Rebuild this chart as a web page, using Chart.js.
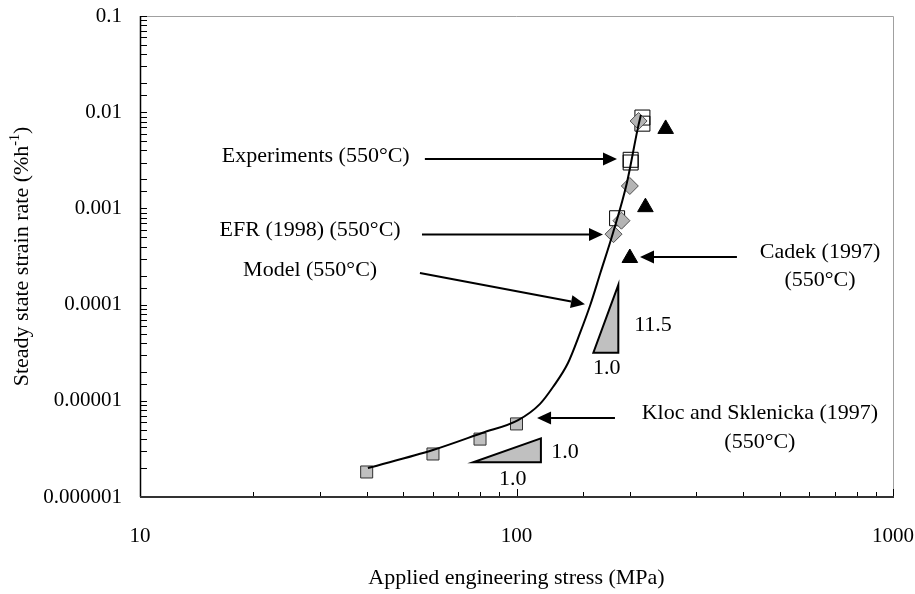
<!DOCTYPE html>
<html>
<head>
<meta charset="utf-8">
<script src="https://cdn.jsdelivr.net/npm/chart.js@4.4.1/dist/chart.umd.min.js"></script>
<style>
  body { margin: 0; background: #fff; }
  #wrap { width: 915px; height: 594px; }
</style>
</head>
<body>
<div id="wrap"><canvas id="chart1" width="915" height="594"></canvas></div>
<script>
// values: stress (MPa) against steady state strain rate (%/h)
const klocStress = [40, 60, 80, 100];
const klocRate = [1.82e-6, 2.8e-6, 4.0e-6, 5.75e-6];

const expStress = [216, 216, 201, 201, 185];
const expRate = [8.8e-3, 7.6e-3, 3.2e-3, 3.0e-3, 7.9e-4];

const efrStress = [211, 200, 190, 181];
const efrRate = [8.1e-3, 1.71e-3, 7.45e-4, 5.4e-4];

const cadekStress = [249, 220, 200];
const cadekRate = [6.7e-3, 1.03e-3, 3.05e-4];

const modelStress = [40.3, 60, 81, 101, 115.5, 125, 137, 147.5, 157, 167, 180.4, 196.4, 210.3, 214];
const modelRate = [2.0e-6, 3.08e-6, 4.63e-6, 6.3e-6, 9.3e-6, 1.39e-5, 2.47e-5, 5.07e-5, 9.9e-5, 2.13e-4, 5.55e-4, 1.84e-3, 7.0e-3, 9.35e-3];

// annotations, in data units
const arrowFrom = [[57.1, 3.26e-3], [56.1, 5.35e-4], [55.4, 2.13e-4], [385, 3.12e-4], [182.6, 6.63e-6]];
const arrowTo = [[184.9, 3.26e-3], [169.7, 5.35e-4], [152, 1.01e-4], [212.8, 3.12e-4], [113.4, 6.63e-6]];
const noteText = ['Experiments (550°C)', 'EFR (1998) (550°C)', 'Model (550°C)', 'Cadek (1997)', '(550°C)',
  'Kloc and Sklenicka (1997)', '(550°C)', '11.5', '1.0', '1.0', '1.0'];
const noteAt = [[29.3, 3.5e-3], [28.3, 5.96e-4], [28.3, 2.29e-4], [640, 3.52e-4], [640, 1.8e-4],
  [443, 7.47e-6], [443, 3.73e-6], [230.4, 6.14e-5], [173.6, 2.18e-5], [134.5, 2.89e-6], [97.8, 1.54e-6]];
const slopeTri = [
  [[160, 3.16e-5], [186.4, 3.16e-5], [186.4, 1.6e-4]],
  [[76.7, 2.3e-6], [116.1, 2.3e-6], [116.1, 4.07e-6]]
];

const xTitle = 'Applied engineering stress (MPa)';
const yTitle = 'Steady state strain rate (%h';
const yTitleSup = '-1';

const SERIF = '"Liberation Serif", "Times New Roman", serif';

function pts(xs, ys) {
  let out = [];
  for (let i = 0; i < xs.length; i++) {
    out.push({ x: xs[i], y: ys[i] });
  }
  return out;
}

function isDecade(v) {
  const e = Math.log10(v);
  return Math.abs(e - Math.round(e)) < 1e-6;
}

function arrow(ctx, x1, y1, x2, y2) {
  const ang = Math.atan2(y2 - y1, x2 - x1);
  const len = 14, half = 6.5;
  const bx = x2 - Math.cos(ang) * len, by = y2 - Math.sin(ang) * len;
  ctx.beginPath();
  ctx.moveTo(x1, y1);
  ctx.lineTo(bx, by);
  ctx.lineWidth = 2;
  ctx.strokeStyle = '#000';
  ctx.stroke();
  ctx.beginPath();
  ctx.moveTo(x2, y2);
  ctx.lineTo(bx - Math.sin(ang) * half, by + Math.cos(ang) * half);
  ctx.lineTo(bx + Math.sin(ang) * half, by - Math.cos(ang) * half);
  ctx.closePath();
  ctx.fillStyle = '#000';
  ctx.fill();
}

const extras = {
  id: 'extras',
  beforeDatasetsDraw(chart) {
    const ctx = chart.ctx, xs = chart.scales.x, ys = chart.scales.y;
    const X = v => xs.getPixelForValue(v), Y = v => ys.getPixelForValue(v);
    ctx.save();
    // slope triangles
    slopeTri.forEach(tri => {
      ctx.beginPath();
      tri.forEach((p, i) => {
        if (i == 0) ctx.moveTo(X(p[0]), Y(p[1]));
        else ctx.lineTo(X(p[0]), Y(p[1]));
      });
      ctx.closePath();
      ctx.fillStyle = '#c0c0c0';
      ctx.fill();
      ctx.lineWidth = 2;
      ctx.strokeStyle = '#000';
      ctx.stroke();
    });
    ctx.restore();
  },
  afterDraw(chart) {
    const ctx = chart.ctx, xs = chart.scales.x, ys = chart.scales.y, a = chart.chartArea;
    const X = v => xs.getPixelForValue(v), Y = v => ys.getPixelForValue(v);
    ctx.save();

    // light frame top and right
    ctx.beginPath();
    ctx.strokeStyle = '#a0a0a0';
    ctx.lineWidth = 1;
    ctx.moveTo(a.left, a.top + 0.5);
    ctx.lineTo(a.right + 0.5, a.top + 0.5);
    ctx.lineTo(a.right + 0.5, a.bottom);
    ctx.stroke();

    // inward tick marks
    ctx.beginPath();
    ctx.strokeStyle = '#000';
    ctx.lineWidth = 1;
    ys.ticks.forEach(t => {
      const y = Math.round(Y(t.value)) + 0.5;
      ctx.moveTo(a.left, y);
      ctx.lineTo(a.left + 7, y);
    });
    xs.ticks.forEach(t => {
      const x = Math.round(X(t.value)) + 0.5;
      const l = isDecade(t.value) ? 8 : 5;
      ctx.moveTo(x, a.bottom);
      ctx.lineTo(x, a.bottom - l);
    });
    ctx.stroke();

    // axis lines
    ctx.beginPath();
    ctx.strokeStyle = '#000';
    ctx.lineWidth = 1.5;
    ctx.moveTo(a.left + 0.5, a.top);
    ctx.lineTo(a.left + 0.5, a.bottom);
    ctx.stroke();
    ctx.beginPath();
    ctx.strokeStyle = '#333';
    ctx.lineWidth = 2;
    ctx.moveTo(a.left, a.bottom);
    ctx.lineTo(a.right + 1, a.bottom);
    ctx.stroke();

    // arrows
    for (let i = 0; i < arrowFrom.length; i++) {
      arrow(ctx, X(arrowFrom[i][0]), Y(arrowFrom[i][1]), X(arrowTo[i][0]), Y(arrowTo[i][1]));
    }

    // notes
    ctx.fillStyle = '#000';
    ctx.font = '22px ' + SERIF;
    ctx.textAlign = 'center';
    ctx.textBaseline = 'middle';
    for (let i = 0; i < noteText.length; i++) {
      ctx.fillText(noteText[i], X(noteAt[i][0]), Y(noteAt[i][1]));
    }

    // axis titles
    ctx.font = '22px ' + SERIF;
    ctx.fillText(xTitle, (a.left + a.right) / 2, 578);

    ctx.translate(22, (a.top + a.bottom) / 2);
    ctx.rotate(-Math.PI / 2);
    const w1 = ctx.measureText(yTitle).width;
    ctx.font = '14px ' + SERIF;
    const w2 = ctx.measureText(yTitleSup).width;
    ctx.font = '22px ' + SERIF;
    const w3 = ctx.measureText(')').width;
    let x0 = -(w1 + w2 + w3) / 2;
    ctx.textAlign = 'left';
    ctx.fillText(yTitle, x0, 0);
    ctx.font = '14px ' + SERIF;
    ctx.fillText(yTitleSup, x0 + w1, -7);
    ctx.font = '22px ' + SERIF;
    ctx.fillText(')', x0 + w1 + w2, 0);

    ctx.restore();
  }
};

new Chart(document.getElementById('chart1'), {
  type: 'scatter',
  data: {
    datasets: [
      {
        label: 'Model (550°C)',
        data: pts(modelStress, modelRate),
        showLine: true,
        borderColor: '#000',
        borderWidth: 2,
        pointRadius: 0,
        tension: 0.4,
        cubicInterpolationMode: 'monotone',
        order: 1
      },
      {
        label: 'Experiments (550°C)',
        data: pts(expStress, expRate),
        pointStyle: 'rect',
        pointRadius: 10.6,
        backgroundColor: 'rgba(0,0,0,0)',
        borderColor: '#000',
        borderWidth: 1,
        order: 3
      },
      {
        label: 'EFR (1998) (550°C)',
        data: pts(efrStress, efrRate),
        pointStyle: 'rectRot',
        pointRadius: 8.5,
        backgroundColor: '#b4b4b4',
        borderColor: '#505050',
        borderWidth: 1,
        order: 2
      },
      {
        label: 'Cadek (1997)',
        data: pts(cadekStress, cadekRate),
        pointStyle: 'triangle',
        pointRadius: 9,
        backgroundColor: '#000',
        borderColor: '#000',
        borderWidth: 1,
        order: 2
      },
      {
        label: 'Kloc and Sklenicka (1997)',
        data: pts(klocStress, klocRate),
        pointStyle: 'rect',
        pointRadius: 8.5,
        backgroundColor: '#c0c0c0',
        borderColor: '#303030',
        borderWidth: 1,
        order: 2
      }
    ]
  },
  options: {
    responsive: false,
    animation: false,
    layout: { padding: { top: 16, right: 22, left: 0, bottom: 0 } },
    plugins: {
      legend: { display: false },
      tooltip: { enabled: false }
    },
    scales: {
      x: {
        type: 'logarithmic',
        min: 10,
        max: 1000,
        grid: { display: false, drawTicks: false },
        border: { display: false },
        afterFit: function (scale) {
          scale.height = 97;
          scale.paddingLeft = 0;
          scale.paddingRight = 0;
        },
        ticks: {
          autoSkip: false,
          maxRotation: 0,
          padding: 27,
          color: '#000',
          font: { family: SERIF, size: 21 },
          callback: function (v) { return isDecade(v) ? String(Math.round(v)) : ''; }
        }
      },
      y: {
        type: 'logarithmic',
        min: 1e-6,
        max: 0.1,
        grid: { display: false, drawTicks: false },
        border: { display: false },
        afterFit: function (scale) {
          scale.width = 140;
          scale.paddingTop = 0;
          scale.paddingBottom = 0;
        },
        ticks: {
          autoSkip: false,
          padding: 18,
          color: '#000',
          font: { family: SERIF, size: 21 },
          callback: function (v) {
            if (!isDecade(v)) return '';
            const e = Math.round(Math.log10(v));
            return e < 0 ? v.toFixed(-e) : String(v);
          }
        }
      }
    }
  },
  plugins: [extras]
});
</script>
</body>
</html>
